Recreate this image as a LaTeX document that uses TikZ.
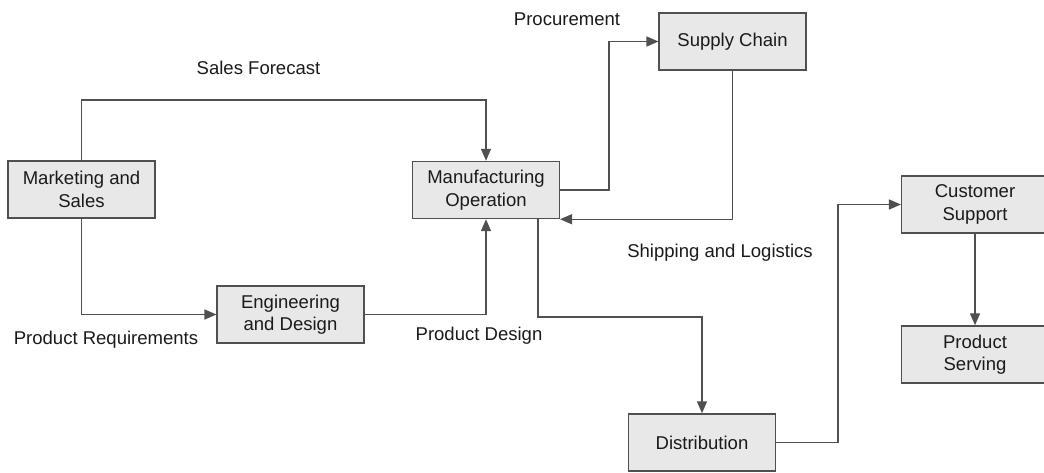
\documentclass[tikz,border=0pt]{standalone}
\usepackage{fontspec}
\setmainfont{Liberation Sans}
\usetikzlibrary{arrows.meta}
\definecolor{linegray}{HTML}{505050}
\definecolor{boxgray}{HTML}{E8E8E8}
\definecolor{textgray}{HTML}{1A1A1A}

\begin{document}
\begin{tikzpicture}[x=0.75pt, y=-0.75pt,
  block/.style={draw=linegray, fill=boxgray, line width=1.1pt, minimum width=110pt,
    minimum height=42.75pt, align=center, text=textgray,
    font=\fontsize{13.9}{16.8}\selectfont},
  flowlabel/.style={text=textgray, font=\fontsize{13.9}{16.8}\selectfont},
  flow/.style={draw=linegray, line width=1.1pt, -{Triangle[length=9pt, width=7.5pt]}}]
\useasboundingbox (0,0) rectangle (1044,472);

% blocks
\node[block] (mkt)  at (81.5,189.5) {Marketing and\\Sales};
\node[block] (mfg)  at (486,190)    {Manufacturing\\Operation};
\node[block] (sc)   at (732.5,41.5) {Supply Chain};
\node[block] (eng)  at (290.5,314.5) {Engineering\\and Design};
\node[block] (dist) at (702,442.5)  {Distribution};
\node[block] (cs)   at (975,204.5)  {Customer\\Support};
\node[block] (ps)   at (975,354.5)  {Product\\Serving};

% labels
\node[flowlabel] (lsf)  at (258.5,68) {Sales Forecast};
\node[flowlabel] (lpro) at (567,19.5) {Procurement};
\node[flowlabel] (lshp) at (720,253)  {Shipping and Logistics};
\node[flowlabel] (lreq) at (106,340)  {Product Requirements};
\node[flowlabel] (lpd)  at (479,336)  {Product Design};

% connectors
\draw[flow] (mkt.north) -- (mkt.north |- 0,100) -| (mfg.north);
\draw[flow] (mkt.south) |- (eng.west);
\draw[flow] (eng.east) -| (mfg.south);
\draw[flow] (mfg.east) -- (609,190) |- (sc.west);
\draw[flow] (sc.south) |- (mfg.south east);
\draw[flow] ([xshift=39pt]mfg.south) -- (538,317) -| (dist.north);
\draw[flow] (dist.east) -- (838,442.5) |- (cs.west);
\draw[flow] (cs.south) -- (ps.north);
\end{tikzpicture}
\end{document}
